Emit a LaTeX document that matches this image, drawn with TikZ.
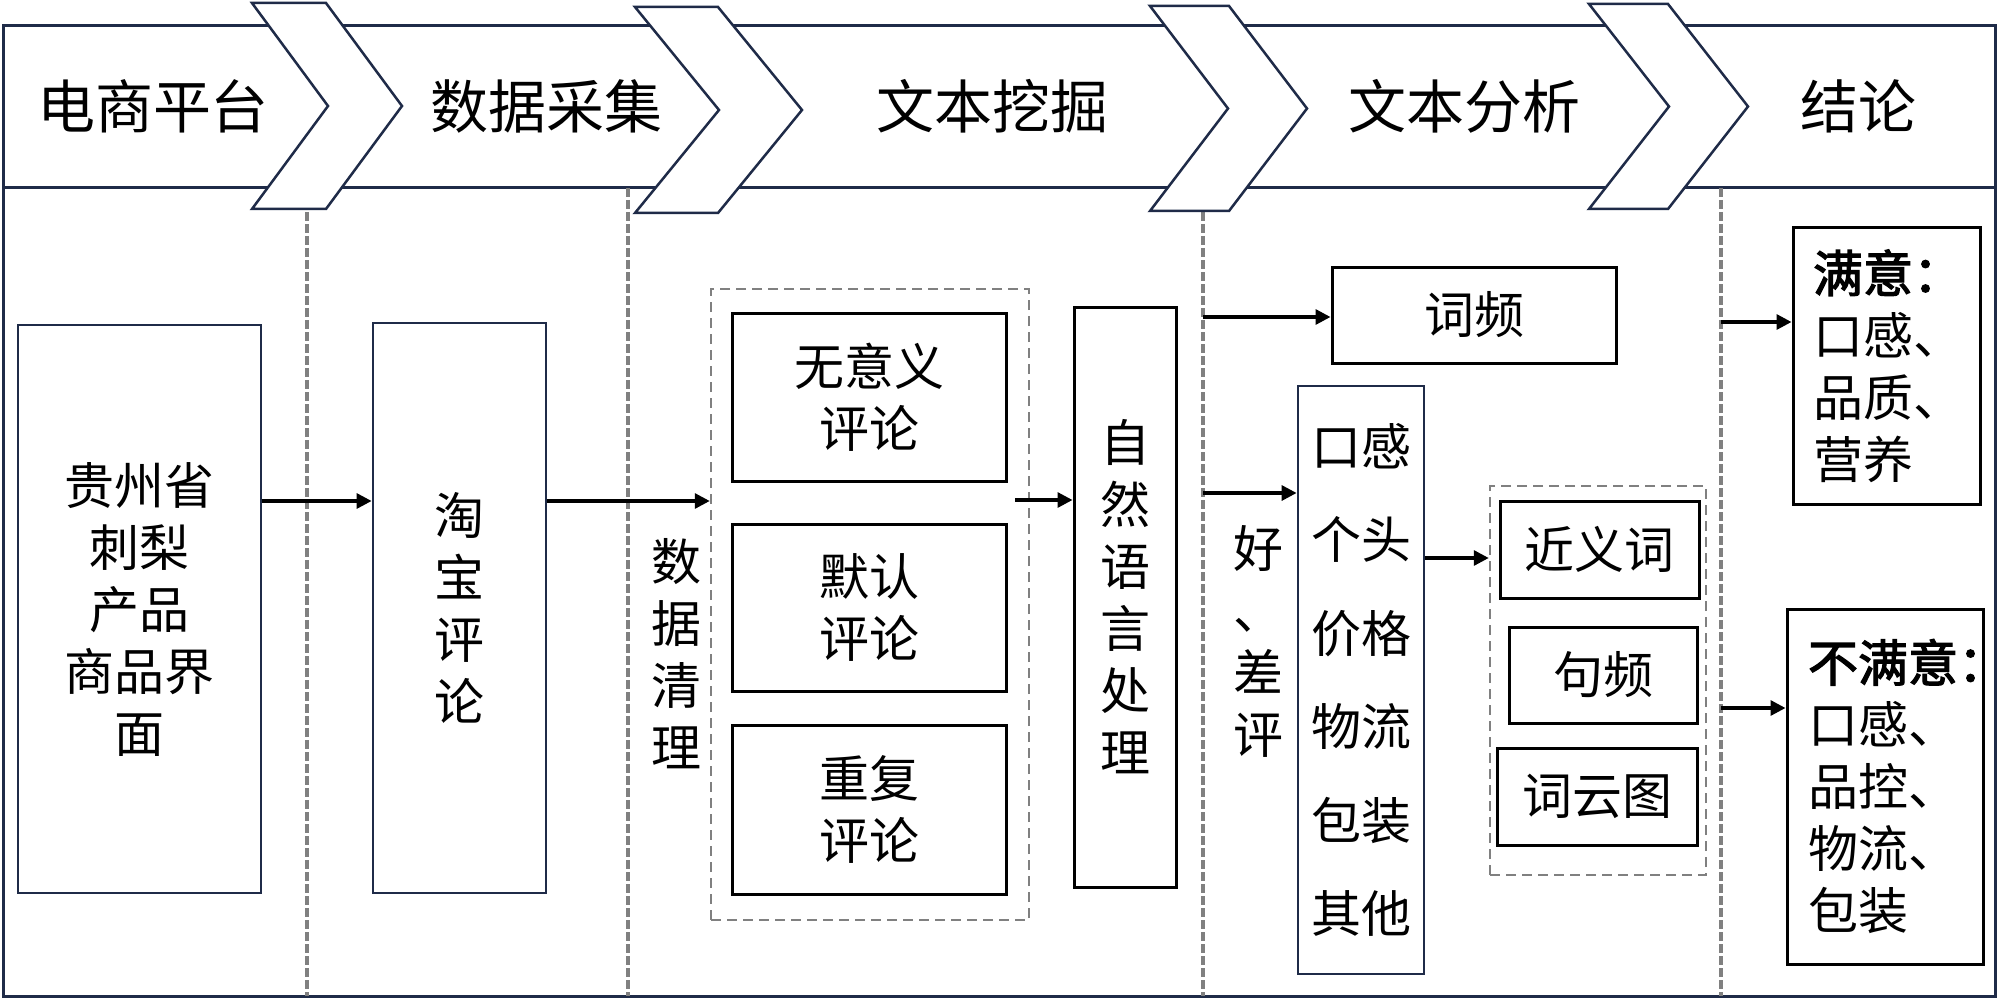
\documentclass[tikz,border=0pt]{standalone}
\usepackage{fontspec}
\setmainfont{Liberation Serif}
\newfontfamily\cjk{Noto Sans CJK SC}
\newfontfamily\cjkb[FakeBold=2.5]{Noto Sans CJK SC}
\usetikzlibrary{arrows.meta,calc}
\definecolor{navy}{HTML}{1F2B48}
\definecolor{dgray}{HTML}{808080}
\begin{document}
\begin{tikzpicture}[x=1pt,y=-1pt,
  every node/.style={font=\cjk\fontsize{50}{62}\selectfont, align=center},
  navybox/.style={draw=navy, line width=2.8pt, fill=white, inner sep=0pt},
  blkbox/.style={draw=black, line width=3pt, inner sep=0pt},
  grp/.style={draw=dgray, line width=2.5pt, dash pattern=on 10pt off 6pt, inner sep=0pt},
  vsep/.style={draw=dgray, line width=3.5pt, dash pattern=on 9pt off 3pt},
  arr/.style={draw=black, line width=3.2pt, -{Triangle[length=15pt,width=15pt]}},
  chev/.style={draw=navy, line width=2.5pt, fill=white, line join=miter},
  hdr/.style={font=\cjk\fontsize{58}{70}\selectfont}]
\useasboundingbox (0,0) rectangle (2000,1003);
\fill[white] (0,0) rectangle (2000,1003);
% frame
\draw[navy, line width=3pt] (3,26) rectangle (1995,996);
\draw[navy, line width=3pt] (3,188) -- (1995,188);
% section separators
\foreach \x in {307,628,1203,1721} \draw[vsep] (\x,188) -- (\x,996);
% chevrons
\foreach \xl/\xr/\d/\t/\b in {252/326/76/3/209, 635/718/84/7/213, 1150/1229/78/6/211, 1589/1668/80/4/209}
  \draw[chev] (\xl,\t) -- (\xr,\t) -- ({\xr+\d},{(\t+\b)/2}) -- (\xr,\b) -- (\xl,\b) -- ({\xl+\d},{(\t+\b)/2}) -- cycle;
% header texts
\node[hdr] (h1) at (153,106) {电商平台};
\node[hdr] (h2) at (546,106) {数据采集};
\node[hdr] (h3) at (992,106) {文本挖掘};
\node[hdr] (h4) at (1464,106) {文本分析};
\node[hdr] (h5) at (1858,106) {结论};
% section 1-2
\node[navybox, minimum width=243pt, minimum height=568pt] (prod) at (139.5,609) {贵州省\\刺梨\\产品\\商品界\\面};
\node[navybox, minimum width=173pt, minimum height=570pt] (tb) at (459.5,608) {淘\\宝\\评\\论};
% section 3
\node[grp, minimum width=318pt, minimum height=631pt] (g1) at (870,604.5) {};
\node[blkbox, minimum width=274pt, minimum height=168pt] (c1) at (869,397) {无意义\\评论};
\node[blkbox, minimum width=274pt, minimum height=167pt] (c2) at (869,607.5) {默认\\评论};
\node[blkbox, minimum width=274pt, minimum height=169pt] (c3) at (869,809.5) {重复\\评论};
\node (clean) at (676,654) {数\\据\\清\\理};
\node[blkbox, minimum width=102pt, minimum height=580pt] (nlp) at (1125,597) {自\\然\\语\\言\\处\\理};
\coordinate (ya) at (0,501);
\draw[arr] (prod.east |- ya) -- (tb.west |- ya);
\draw[arr] (tb.east |- ya) -- (g1.west |- ya);
\coordinate (g1o) at (1015,500);
\draw[arr] (g1o) -- (nlp.west |- g1o);
% section 4
\coordinate (s4a) at (1203,317);
\coordinate (s4b) at (1203,493);
\node[blkbox, minimum width=284pt, minimum height=96pt] (wf) at (1474,315) {词频};
\draw[arr] (s4a) -- (wf.west |- s4a);
\node[navybox, minimum width=126pt, minimum height=588pt, font=\cjk\fontsize{50}{93.5}\selectfont] (kg) at (1361,680) {口感\\个头\\价格\\物流\\包装\\其他};
\draw[arr] (s4b) -- (kg.west |- s4b);
\node (hc) at (1258,641) {好\\、\\差\\评};
\node[grp, minimum width=216pt, minimum height=389pt] (g2) at (1598,680.5) {};
\node[blkbox, minimum width=199pt, minimum height=97pt] (syn) at (1599.5,549.5) {近义词};
\node[blkbox, minimum width=188pt, minimum height=96pt] (sf) at (1603,675) {句频};
\node[blkbox, minimum width=200pt, minimum height=97pt] (wc) at (1597,796.5) {词云图};
\coordinate (yk) at (0,558);
\draw[arr] (kg.east |- yk) -- (g2.west |- yk);
% section 5
\node[blkbox, text width=147pt, inner xsep=20pt, minimum height=276pt, align=left] (sat) at (1886.5,366) {{\cjkb 满意：}\\口感、\\品质、\\营养};
\coordinate (r1) at (1721,322);
\draw[arr] (r1) -- (sat.west |- r1);
\node[blkbox, text width=154pt, inner xsep=21pt, minimum height=355pt, align=left] (dis) at (1885,786.5) {{\cjkb 不满意：}\\口感、\\品控、\\物流、\\包装};
\coordinate (r2) at (1721,708);
\draw[arr] (r2) -- (dis.west |- r2);
\end{tikzpicture}
\end{document}
